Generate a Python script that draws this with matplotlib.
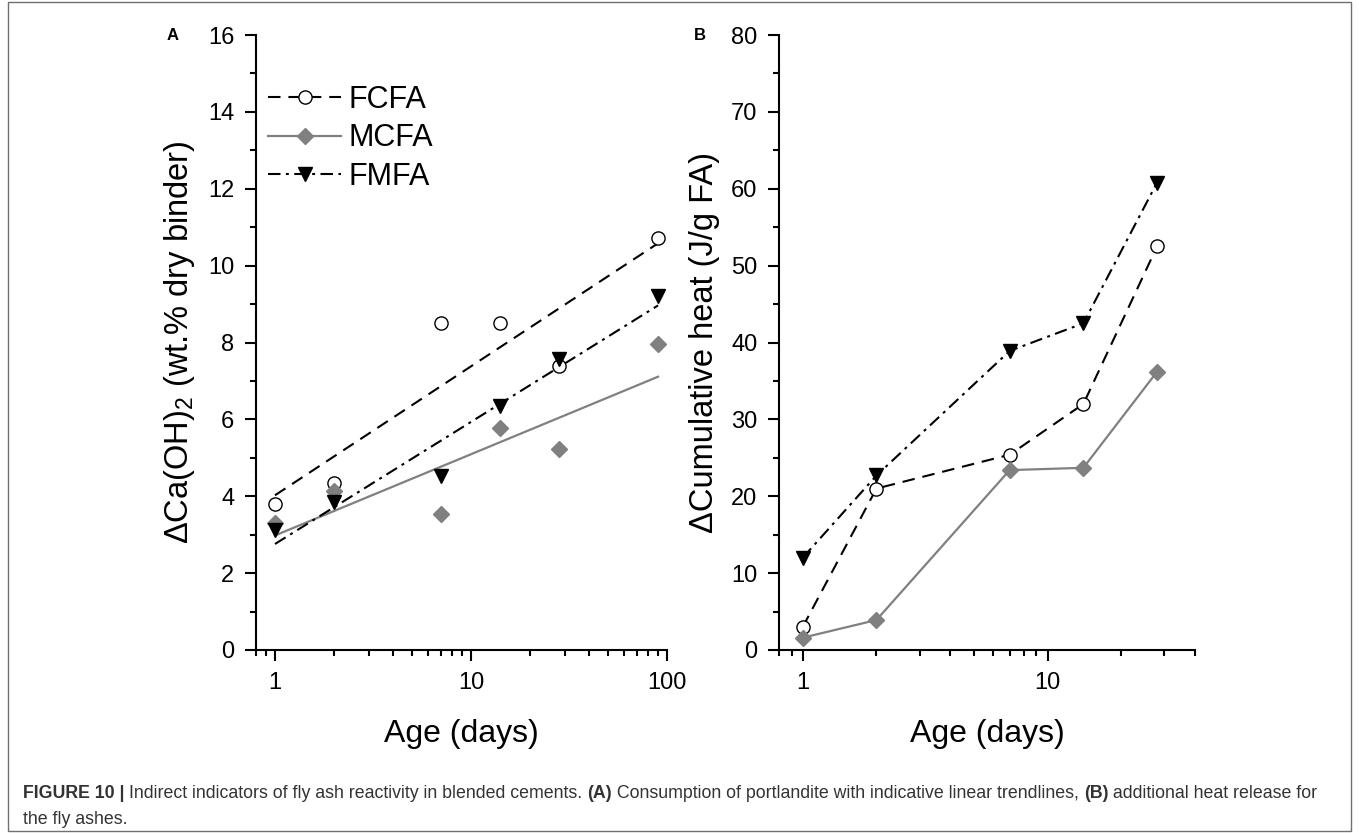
import numpy as np
import matplotlib
matplotlib.use("Agg")
import matplotlib.pyplot as plt
from matplotlib.lines import Line2D
from matplotlib.patches import Rectangle
from matplotlib.ticker import FixedLocator, NullFormatter, LogLocator, MultipleLocator
from matplotlib import font_manager

# ---------------- data ----------------
days_A = [1, 2, 7, 14, 28, 90]
fcfa_ch = [3.80, 4.35, 8.50, 8.50, 7.39, 10.71]
mcfa_ch = [3.30, 4.13, 3.54, 5.77, 5.22, 7.95]
fmfa_ch = [3.13, 3.85, 4.52, 6.35, 7.57, 9.21]

days_B = [1, 2, 7, 14, 28]
fcfa_heat = [3.0, 21.0, 25.4, 32.0, 52.5]
mcfa_heat = [1.6, 3.9, 23.4, 23.7, 36.2]
fmfa_heat = [12.0, 22.7, 38.9, 42.5, 60.8]

series_names = ["FCFA", "MCFA", "FMFA"]
xticks_A = [1, 10, 100]
xticks_B = [1, 10]

# ---------------- style ----------------
plt.rcParams['font.family'] = ['Liberation Sans', 'DejaVu Sans']
plt.rcParams['mathtext.fontset'] = 'custom'
plt.rcParams['mathtext.rm'] = 'Liberation Sans'
plt.rcParams['mathtext.it'] = 'Liberation Sans:italic'
plt.rcParams['mathtext.bf'] = 'Liberation Sans:bold'

W, H = 1359, 833
fig = plt.figure(figsize=(W / 100, H / 100), dpi=100)

def fx(x):
    return x / W

def fy(y):
    return 1 - y / H

GRAY = '#808080'
dash_style = (6, 3.8)
dashdot_style = (6, 2.6, 1.4, 2.6)

styles = {
    "FCFA": dict(color='black', marker='o', mfc='white', mec='black', ms=9.5, mew=1.0, dashes=dash_style),
    "MCFA": dict(color=GRAY, marker='D', mfc=GRAY, mec=GRAY, ms=8.3, mew=1.0, ls='-'),
    "FMFA": dict(color='black', marker='v', mfc='black', mec='black', ms=10.5, mew=1.0, dashes=dashdot_style),
}

def style_axes(ax, ymax, ymajor, yminor, xmin, xmax, xticks):
    ax.set_xscale('log')
    ax.set_xlim(xmin, xmax)
    ax.set_ylim(0, ymax)
    for s in ['top', 'right']:
        ax.spines[s].set_visible(False)
    for s in ['left', 'bottom']:
        ax.spines[s].set_linewidth(1.5)
    ax.xaxis.set_major_locator(FixedLocator(xticks))
    ax.set_xticklabels([str(t) for t in xticks])
    ax.xaxis.set_minor_locator(LogLocator(base=10, subs=np.arange(2, 10), numticks=20))
    ax.xaxis.set_minor_formatter(NullFormatter())
    ax.yaxis.set_major_locator(MultipleLocator(ymajor))
    ax.yaxis.set_minor_locator(MultipleLocator(yminor))
    ax.tick_params(which='major', direction='out', length=8, width=1.5, labelsize=17, pad=7.5)
    ax.tick_params(which='minor', direction='out', length=4, width=1.5)

# ---------------- panel A ----------------
axA = fig.add_axes([fx(256), fy(650), fx(667) - fx(256), fy(35) - fy(650)])
style_axes(axA, 16, 2, 1, 0.8, 100, xticks_A)
logA = np.log10(days_A)
for name, vals in zip(series_names, [fcfa_ch, mcfa_ch, fmfa_ch]):
    st = styles[name]
    b, a = np.polyfit(logA, vals, 1)
    xs = np.array([days_A[0], days_A[-1]], dtype=float)
    ys = a + b * np.log10(xs)
    lkw = dict(color=st['color'], lw=1.5 if name != 'MCFA' else 1.6)
    if 'dashes' in st:
        lkw['dashes'] = st['dashes']
    axA.plot(xs, ys, zorder=2, **lkw)
    axA.plot(days_A, vals, ls='none', marker=st['marker'], mfc=st['mfc'], mec=st['mec'],
             ms=st['ms'], mew=st['mew'], zorder=3, clip_on=False)

axA.set_xlabel('Age (days)', fontsize=23, labelpad=18)
axA.set_ylabel(r'ΔCa(OH)$_{\mathrm{2}}$ (wt.% dry binder)', fontsize=23.5, labelpad=8)

handles = []
for name in series_names:
    st = styles[name]
    kw = dict(color=st['color'], lw=1.5 if name != 'MCFA' else 1.6, marker=st['marker'],
              mfc=st['mfc'], mec=st['mec'], ms=st['ms'], mew=st['mew'])
    if 'dashes' in st:
        kw['dashes'] = st['dashes']
    handles.append(Line2D([], [], **kw))
axA.legend(handles, series_names, loc='upper left', bbox_to_anchor=(0.029, 0.919),
           frameon=False, fontsize=22, handlelength=2.4, handletextpad=0.25,
           labelspacing=0.28, borderpad=0, borderaxespad=0)

# ---------------- panel B ----------------
axB = fig.add_axes([fx(779), fy(650), fx(1195) - fx(779), fy(35) - fy(650)])
style_axes(axB, 80, 10, 5, 0.8, 40, xticks_B)
for name, vals in zip(series_names, [fcfa_heat, mcfa_heat, fmfa_heat]):
    st = styles[name]
    kw = dict(color=st['color'], lw=1.5 if name != 'MCFA' else 1.6, marker=st['marker'],
              mfc=st['mfc'], mec=st['mec'], ms=st['ms'], mew=st['mew'])
    if 'dashes' in st:
        kw['dashes'] = st['dashes']
    axB.plot(days_B, vals, clip_on=False, zorder=3, **kw)

axB.set_xlabel('Age (days)', fontsize=23, labelpad=18)
axB.set_ylabel('ΔCumulative heat (J/g FA)', fontsize=23.5, labelpad=8)

# panel letters
fig.text(fx(173), fy(36), 'A', fontsize=12, fontweight='bold', ha='center', va='center')
fig.text(fx(700), fy(36), 'B', fontsize=12, fontweight='bold', ha='center', va='center')

# border
fig.patches.append(Rectangle((fx(8), fy(831)), fx(1351) - fx(8), fy(2) - fy(831),
                             transform=fig.transFigure, fill=False, ec='#707070', lw=1.0))

# ---------------- caption ----------------
names = {f.name for f in font_manager.fontManager.ttflist}
cap_family = ['Liberation Sans Narrow'] if 'Liberation Sans Narrow' in names else ['Liberation Sans']
cap_color = '#333333'
line1 = [("FIGURE 10 | ", True),
         ("Indirect indicators of fly ash reactivity in blended cements. ", False),
         ("(A)", True),
         (" Consumption of portlandite with indicative linear trendlines, ", False),
         ("(B)", True),
         (" additional heat release for", False)]
line2 = [("the fly ashes.", False)]

renderer = fig.canvas.get_renderer()

def draw_line(pieces, x0, y, size):
    x = x0
    objs = []
    for txt, bold in pieces:
        t = fig.text(fx(x), fy(y), txt, fontsize=size, family=cap_family,
                     fontweight='bold' if bold else 'normal', color=cap_color,
                     ha='left', va='center')
        bb = t.get_window_extent(renderer=renderer)
        x += bb.width
        objs.append(t)
    return x, objs

target_width = 1335 - 23
size = 10.5
end, objs = draw_line(line1, 23, 793, size)
for o in objs:
    o.remove()
size = size * target_width / (end - 23)
draw_line(line1, 23, 793, size)
draw_line(line2, 23, 819, size)

fig.savefig('out.png', dpi=100)
